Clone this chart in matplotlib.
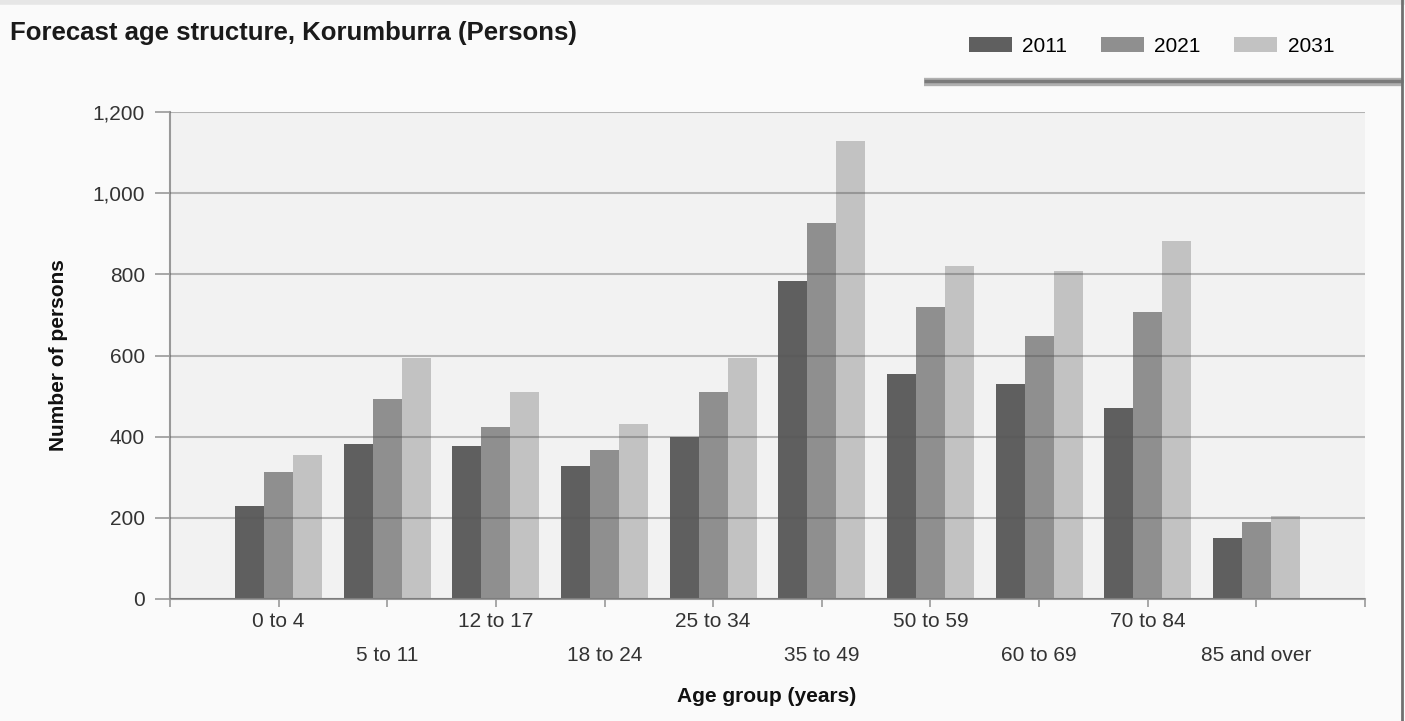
import numpy as np
import matplotlib
matplotlib.use('Agg')
import matplotlib.pyplot as plt
from matplotlib.lines import Line2D

plt.rcParams['font.family'] = ['Liberation Sans', 'DejaVu Sans']

# data
age_groups = ['0 to 4', '5 to 11', '12 to 17', '18 to 24', '25 to 34',
              '35 to 49', '50 to 59', '60 to 69', '70 to 84', '85 and over']
years = ['2011', '2021', '2031']
persons_2011 = [229, 382, 376, 327, 398, 784, 554, 529, 470, 150]
persons_2021 = [312, 494, 425, 366, 509, 927, 720, 647, 706, 190]
persons_2031 = [356, 593, 509, 431, 593, 1129, 821, 809, 883, 204]
series = [persons_2011, persons_2021, persons_2031]
colors = ['#5f5f5f', '#8f8f8f', '#c2c2c2']
y_ticks = [0, 200, 400, 600, 800, 1000, 1200]

FS = 15

fig = plt.figure(figsize=(14.05, 7.21), dpi=100, facecolor='#fafafa')
ax = fig.add_axes([170 / 1405, 122 / 721, 1195 / 1405, 487 / 721])
ax.set_facecolor('#f2f2f2')

x = np.arange(len(age_groups))
width = 0.267
bars = []
for i, (vals, col) in enumerate(zip(series, colors)):
    b = ax.bar(x + (i - 1) * width, vals, width, color=col,
               linewidth=0, zorder=2, label=years[i])
    bars.append(b)

ax.set_xlim(-1, len(age_groups))
ax.set_ylim(0, 1200)
ax.set_yticks(y_ticks)
ax.set_yticklabels(['{:,}'.format(v) for v in y_ticks], fontsize=FS, color='#333333')
ax.yaxis.grid(True, color='#555555', linewidth=1.5, alpha=0.4, zorder=3)
ax.set_axisbelow(False)
ax.tick_params(axis='y', length=11, width=1.2, color='#999999', pad=7)

ax.set_xticks(np.arange(-1, len(age_groups) + 1))
ax.set_xticklabels([])
ax.tick_params(axis='x', length=6, width=1.2, color='#999999')

for i, lab in enumerate(age_groups):
    ypos = -0.047 if i % 2 == 0 else -0.117
    ax.text(i, ypos, lab, transform=ax.get_xaxis_transform(), ha='center',
            va='center', fontsize=FS, color='#333333')

for s in ['top', 'right']:
    ax.spines[s].set_visible(False)
for s in ['left', 'bottom']:
    ax.spines[s].set_color('#999999')
    ax.spines[s].set_linewidth(1.5)

ax.set_ylabel('Number of persons', fontsize=FS, fontweight='bold', labelpad=18,
              color='#111111')
fig.text(767 / 1405, 1 - 697 / 721, 'Age group (years)', fontsize=FS,
         fontweight='bold', ha='center', va='center', color='#111111')

fig.text(10 / 1405, 1 - 33 / 721, 'Forecast age structure, Korumburra (Persons)',
         fontsize=18.5, fontweight='bold', va='center', ha='left', color='#1a1a1a')

# legend box with shadow underneath
fig.add_artist(Line2D([924 / 1405, 1403 / 1405], [1 - 82 / 721, 1 - 82 / 721],
                      transform=fig.transFigure, color='#b0b0b0', linewidth=6,
                      solid_capstyle='butt'))
fig.add_artist(Line2D([924 / 1405, 1403 / 1405], [1 - 81 / 721, 1 - 81 / 721],
                      transform=fig.transFigure, color='#7a7a7a', linewidth=2.5,
                      solid_capstyle='butt'))
leg = fig.legend(handles=bars, labels=years, loc='center right',
                 bbox_to_anchor=(1334 / 1405, 1 - 46 / 721), ncol=3, frameon=False,
                 fontsize=FS, handlelength=2.07, handleheight=0.75, columnspacing=1.6,
                 handletextpad=0.5, borderpad=0, borderaxespad=0)

# frame edges of the screenshot
fig.add_artist(Line2D([0, 1], [1 - 2 / 721, 1 - 2 / 721], transform=fig.transFigure,
                      color='#e6e6e6', linewidth=4))
fig.add_artist(Line2D([1402 / 1405, 1402 / 1405], [0, 1], transform=fig.transFigure,
                      color='#707070', linewidth=2))

plt.savefig('out.png', dpi=100, facecolor=fig.get_facecolor())
